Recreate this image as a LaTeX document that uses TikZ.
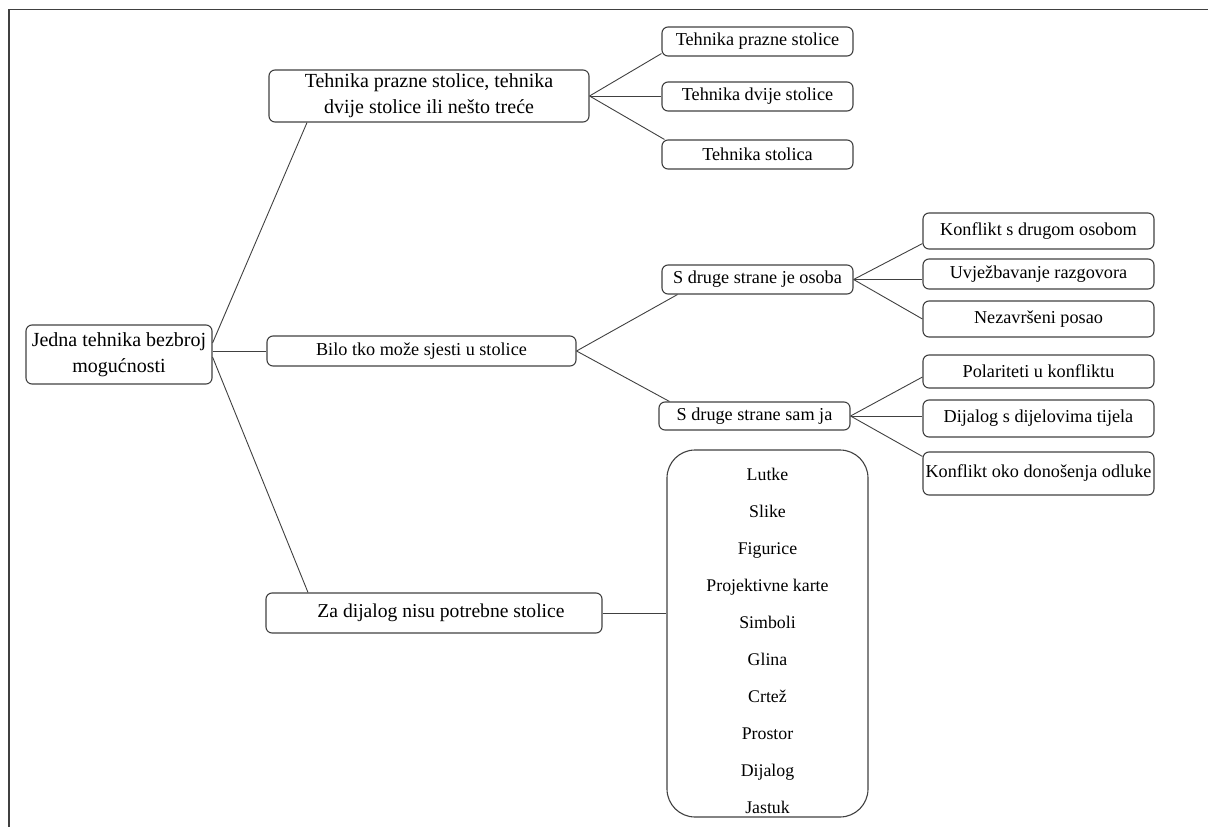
\documentclass[tikz,border=0pt]{standalone}
\usepackage{fontspec}
\setmainfont{Liberation Serif}
\usetikzlibrary{calc}
\begin{document}
\begin{tikzpicture}[x=1pt,y=-1pt,
  box/.style={draw=black!75, line width=1.1pt, rounded corners=6pt, inner sep=0pt, align=center, font=\fontsize{18.2}{25}\selectfont},
  bigtext/.style={font=\fontsize{20}{26}\selectfont},
  listbox/.style={draw=black!75, line width=1.1pt, rounded corners=28pt, inner sep=0pt},
  items/.style={inner sep=0pt, align=center, font=\fontsize{17.8}{37}\selectfont},
  conn/.style={draw=black!75, line width=0.9pt}]
\useasboundingbox (0,0) rectangle (1208,827);
\draw[black!75, line width=1.3pt] (9,827) -- (9,9.5) -- (1208,9.5);
% root
\node[box, bigtext, minimum width=186pt, minimum height=59pt] (R) at (119,354.5) {Jedna tehnika bezbroj\\mogućnosti};
% level 1
\node[box, bigtext, minimum width=320pt, minimum height=52pt] (A) at (429,96) {Tehnika prazne stolice, tehnika\\dvije stolice ili nešto treće};
\node[box, minimum width=309pt, minimum height=30pt] (B) at (421.5,351) {Bilo tko može sjesti u stolice};
\node[box, font=\fontsize{19.6}{25}\selectfont, minimum width=336pt, minimum height=40pt] (C) at (434,613) {\hspace*{14pt}Za dijalog nisu potrebne stolice};
% A children
\node[box, minimum width=191pt, minimum height=29pt] (A1) at (757.5,41.5) {Tehnika prazne stolice};
\node[box, minimum width=191pt, minimum height=29pt] (A2) at (757.5,96.5) {Tehnika dvije stolice};
\node[box, minimum width=191pt, minimum height=29pt] (A3) at (757.5,154.5) {Tehnika stolica};
% B children
\node[box, minimum width=191pt, minimum height=29pt] (B1) at (757.5,279.5) {S druge strane je osoba};
\node[box, minimum width=191pt, minimum height=28pt] (B2) at (754.5,416) {S druge strane sam ja};
% B1 children
\node[box, minimum width=231pt, minimum height=36pt] (B1a) at (1038.5,231) {Konflikt s drugom osobom};
\node[box, minimum width=231pt, minimum height=30pt] (B1b) at (1038.5,274) {Uvježbavanje razgovora};
\node[box, minimum width=231pt, minimum height=36pt] (B1c) at (1038.5,319) {Nezavršeni posao};
% B2 children
\node[box, minimum width=231pt, minimum height=33pt] (B2a) at (1038.5,371.5) {Polariteti u konfliktu};
\node[box, minimum width=231pt, minimum height=37pt] (B2b) at (1038.5,418.5) {Dijalog s dijelovima tijela};
\node[box, minimum width=231pt, minimum height=43pt] (B2c) at (1038.5,473.5) {Konflikt oko donošenja odluke};
% list
\node[listbox, minimum width=201pt, minimum height=367pt] (L) at (767.5,633.5) {};
\node[items] (Litems) at (767.5,641) {Lutke\\Slike\\Figurice\\Projektivne karte\\Simboli\\Glina\\Crtež\\Prostor\\Dijalog\\Jastuk};
% connectors
\draw[conn] ($(R.east)+(0,-11.5)$) -- ($(A.south)+(-122,0)$);
\draw[conn] (B.west -| R.east) -- (B.west);
\draw[conn] ($(R.east)+(0,2.5)$) -- ($(C.north)+(-126,0)$);
\draw[conn] (A.east) -- ($(A1.south west)+(0,-3)$);
\draw[conn] (A.east) -- (A2.west |- A.east);
\draw[conn] (A.east) -- ($(A3.north west)+(3,0)$);
\draw[conn] (B.east) -- ($(B1.south west)+(16,0)$);
\draw[conn] (B.east) -- ($(B2.north west)+(11,0)$);
\draw[conn] (B1.east) -- ($(B1a.south west)+(0,-6)$);
\draw[conn] (B1.east) -- (B1b.west |- B1.east);
\draw[conn] (B1.east) -- (B1c.west);
\draw[conn] (B2.east) -- ($(B2a.west)+(0,5.5)$);
\draw[conn] (B2.east) -- (B2b.west |- B2.east);
\draw[conn] (B2.east) -- ($(B2c.north west)+(0,5)$);
\draw[conn] (C.east) -- (C.east -| L.west);
\end{tikzpicture}
\end{document}
